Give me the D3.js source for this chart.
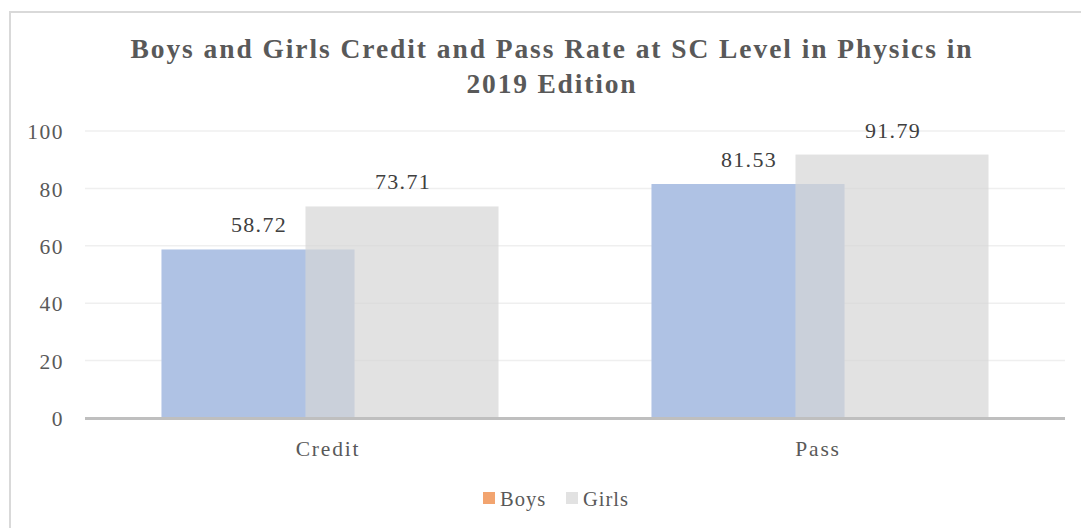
<!DOCTYPE html>
<html><head><meta charset="utf-8">
<script src="https://cdn.jsdelivr.net/npm/d3@7"></script>
<style>body{margin:0;background:#fff}svg{display:block}
svg text{font-family:"Liberation Serif","Times New Roman",Times,"DejaVu Serif",serif}</style>
</head><body>
<svg id="c" width="1081" height="528"></svg>
<script>
const titleLines = ["Boys and Girls Credit and Pass Rate at SC Level in Physics in", "2019 Edition"];
const categories = ["Credit", "Pass"];
const seriesNames = ["Boys", "Girls"];
const boys = [58.72, 81.53];
const girls = [73.71, 91.79];
const yTicks = [0, 20, 40, 60, 80, 100];

const svg = d3.select("#c");

// border
svg.append("rect").attr("x", 10).attr("y", 12).attr("width", 1200).attr("height", 600)
  .attr("fill", "none").attr("stroke", "#d9d9d9").attr("stroke-width", 2);

// title
const tl = [{t: titleLines[0], y: 58, len: 841}, {t: titleLines[1], y: 93, len: 169}];
svg.selectAll("text.title").data(tl).join("text").attr("class", "title")
  .attr("x", 551).attr("y", d => d.y).attr("text-anchor", "middle")
  .attr("font-weight", "bold").attr("font-size", 27.5)
  .attr("fill", "#595959").attr("textLength", d => d.len).attr("lengthAdjust", "spacing")
  .text(d => d.t);

const x = d3.scaleBand().domain(categories).range([85, 1065]).padding(0);
const y = d3.scaleLinear().domain([0, 100]).range([418, 131]);
const sx = d3.scalePoint().domain(seriesNames).range([-72, 72]);
const bw = x.bandwidth() * 0.394;

// gridlines
svg.append("g").selectAll("line").data(yTicks.filter(t => t > 0)).join("line")
  .attr("x1", 85).attr("x2", 1065).attr("y1", d => y(d)).attr("y2", d => y(d))
  .attr("stroke", "#efefef").attr("stroke-width", 1.5);

// y axis labels
const yAxis = d3.axisLeft(y).tickValues(yTicks).tickSize(0).tickPadding(0);
const ya = svg.append("g").attr("transform", "translate(64,0)").call(yAxis);
ya.select(".domain").remove();
ya.selectAll("text").attr("font-size", 21.5).attr("fill", "#595959")
  .attr("letter-spacing", "1.5px").attr("dy", "0.36em");

const data = [
  {name: "Boys", vals: boys, fill: "#afc2e4", op: 1},
  {name: "Girls", vals: girls, fill: "#d6d6d6", op: 0.7}
];

data.forEach(s => {
  const g = svg.append("g");
  g.selectAll("rect").data(categories).join("rect")
    .attr("x", (c) => x(c) + x.bandwidth() / 2 + sx(s.name) - bw / 2)
    .attr("width", bw)
    .attr("y", (c, i) => y(s.vals[i]))
    .attr("height", (c, i) => y(0) - y(s.vals[i]))
    .attr("fill", s.fill).attr("fill-opacity", s.op);
});
data.forEach(s => {
  svg.append("g").selectAll("text").data(categories).join("text")
    .attr("x", c => x(c) + x.bandwidth() / 2 + sx(s.name) + 1)
    .attr("y", (c, i) => y(s.vals[i]) - 17)
    .attr("text-anchor", "middle").attr("font-size", 22)
    .attr("letter-spacing", "1.3px").attr("fill", "#404040")
    .text((c, i) => s.vals[i].toFixed(2));
});

// x axis baseline
svg.append("line").attr("x1", 85).attr("x2", 1065).attr("y1", y(0) + 0.5).attr("y2", y(0) + 0.5)
  .attr("stroke", "#bfbfbf").attr("stroke-width", 3);

// category labels
const xAxis = d3.axisBottom(x).tickSize(0).tickPadding(0);
const xa = svg.append("g").attr("transform", "translate(0,456)").call(xAxis);
xa.select(".domain").remove();
xa.selectAll("text").attr("font-size", 21.5).attr("fill", "#595959")
  .attr("letter-spacing", "1.8px").attr("dy", 0).attr("dx", "-2px");

// legend
const legend = [{name: "Boys", fill: "#f2a46f", x: 483}, {name: "Girls", fill: "#e2e2e2", x: 566}];
const lg = svg.append("g").selectAll("g").data(legend).join("g");
lg.append("rect").attr("x", d => d.x).attr("y", 492).attr("width", 12).attr("height", 12).attr("fill", d => d.fill);
lg.append("text").attr("x", d => d.x + 17).attr("y", 506).attr("font-size", 20.5)
  .attr("letter-spacing", "1px").attr("fill", "#595959").text(d => d.name);
</script>
</body></html>
